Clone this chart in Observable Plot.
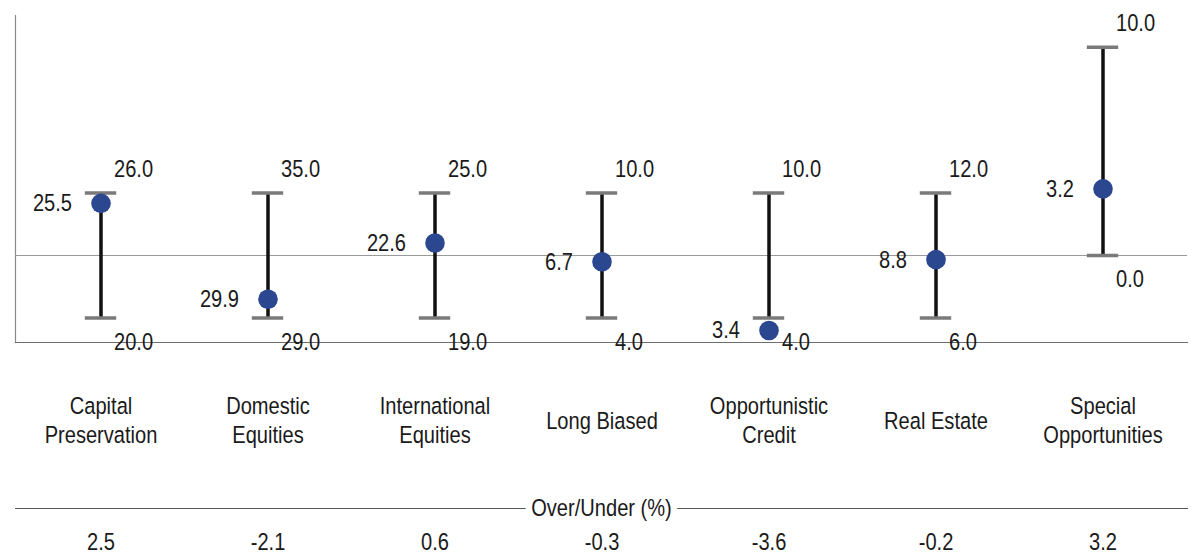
<!DOCTYPE html>
<html>
<head>
<meta charset="utf-8">
<script src="https://cdn.jsdelivr.net/npm/d3@7"></script>
<script src="https://cdn.jsdelivr.net/npm/@observablehq/plot@0.6"></script>
<style>
  html, body { margin: 0; padding: 0; background: #fff; }
  #chart { width: 1192px; height: 555px; }
</style>
</head>
<body>
<div id="chart"></div>
<script>
// Data
const categories = ["Capital Preservation", "Domestic Equities", "International Equities", "Long Biased", "Opportunistic Credit", "Real Estate", "Special Opportunities"];
const categoryLabels = ["Capital\nPreservation", "Domestic\nEquities", "International\nEquities", "Long Biased", "Opportunistic\nCredit", "Real Estate", "Special\nOpportunities"];
const minValues = [20.0, 29.0, 19.0, 4.0, 4.0, 6.0, 0.0];
const maxValues = [26.0, 35.0, 25.0, 10.0, 10.0, 12.0, 10.0];
const targetValues = [23.0, 32.0, 22.0, 7.0, 7.0, 9.0, 0.0];
const actualValues = [25.5, 29.9, 22.6, 6.7, 3.4, 8.8, 3.2];
const overUnder = [2.5, -2.1, 0.6, -0.3, -3.6, -0.2, 3.2];
const overUnderTitle = "Over/Under (%)";

const rows = categories.map((c, i) => ({
  category: c,
  label: categoryLabels[i],
  min: minValues[i],
  max: maxValues[i],
  target: targetValues[i],
  actual: actualValues[i],
  lo: minValues[i] - targetValues[i],
  hi: maxValues[i] - targetValues[i],
  dev: actualValues[i] - targetValues[i],
  ou: overUnder[i]
}));

const fmt = d3.formatLocale({ decimal: ".", thousands: ",", grouping: [3], currency: ["", ""], minus: "-" }).format(".1f");
const textColor = "#1a1a1a";
const narrow = 0.82; // horizontal condensing of the Arial-metric font

const chart = Plot.plot({
  width: 1192,
  height: 555,
  marginTop: 15,
  marginBottom: 213,
  marginLeft: 15,
  marginRight: 5,
  style: { fontFamily: "'Liberation Sans', Arial, sans-serif", fontSize: "24.5px", color: textColor, background: "#fff" },
  x: { type: "band", domain: categories, padding: 0, axis: null },
  y: { domain: [-4.176, 11.52], axis: null },
  marks: [
    Plot.frame({ anchor: "left", stroke: "#8a8a8a", strokeWidth: 1.2 }),
    Plot.frame({ anchor: "bottom", stroke: "#6e6e6e", strokeWidth: 1.2 }),
    Plot.ruleY([0], { stroke: "#9a9a9a", strokeWidth: 1.2 }),
    Plot.ruleX(rows, { x: "category", y1: "lo", y2: "hi", stroke: "#111", strokeWidth: 3.5 }),
    Plot.tickY(rows, { x: "category", y: "lo", stroke: "#7a7a7a", strokeWidth: 3.5, insetLeft: 67.8, insetRight: 67.8 }),
    Plot.tickY(rows, { x: "category", y: "hi", stroke: "#7a7a7a", strokeWidth: 3.5, insetLeft: 67.8, insetRight: 67.8 }),
    Plot.dot(rows, { x: "category", y: "dev", r: 9.8, fill: "#2b4790", stroke: "none" }),
    Plot.text(rows, { x: "category", y: "hi", text: d => fmt(d.max), textAnchor: "start", dx: 13, dy: -24, fill: textColor }),
    Plot.text(rows, { x: "category", y: "lo", text: d => fmt(d.min), textAnchor: "start", dx: 13, dy: 24, fill: textColor }),
    Plot.text(rows, { x: "category", y: "dev", text: d => fmt(d.actual), textAnchor: "end", dx: -29, fill: textColor }),
    Plot.text(rows, { x: "category", text: "label", frameAnchor: "bottom", lineAnchor: "middle", lineHeight: 1.15, dy: 77, fill: textColor }),
    Plot.frame({ anchor: "bottom", dy: 166, stroke: "#555", strokeWidth: 1 }),
    Plot.text([overUnderTitle], { text: d => d, frameAnchor: "bottom", lineAnchor: "middle", dy: 166, fill: textColor, stroke: "#fff", strokeWidth: 16 }),
    Plot.text(rows, { x: "category", text: d => fmt(d.ou), frameAnchor: "bottom", lineAnchor: "middle", dy: 200, fill: textColor })
  ]
});

// condense text horizontally around each text's anchor point
chart.querySelectorAll("text").forEach(t => {
  const x = +(t.getAttribute("x") || 0);
  if (t.hasAttribute("x")) t.removeAttribute("x");
  const tr = t.getAttribute("transform") || "";
  t.setAttribute("transform", `${tr} translate(${x},0) scale(${narrow},1)`);
});

document.getElementById("chart").appendChild(chart);
</script>
</body>
</html>
